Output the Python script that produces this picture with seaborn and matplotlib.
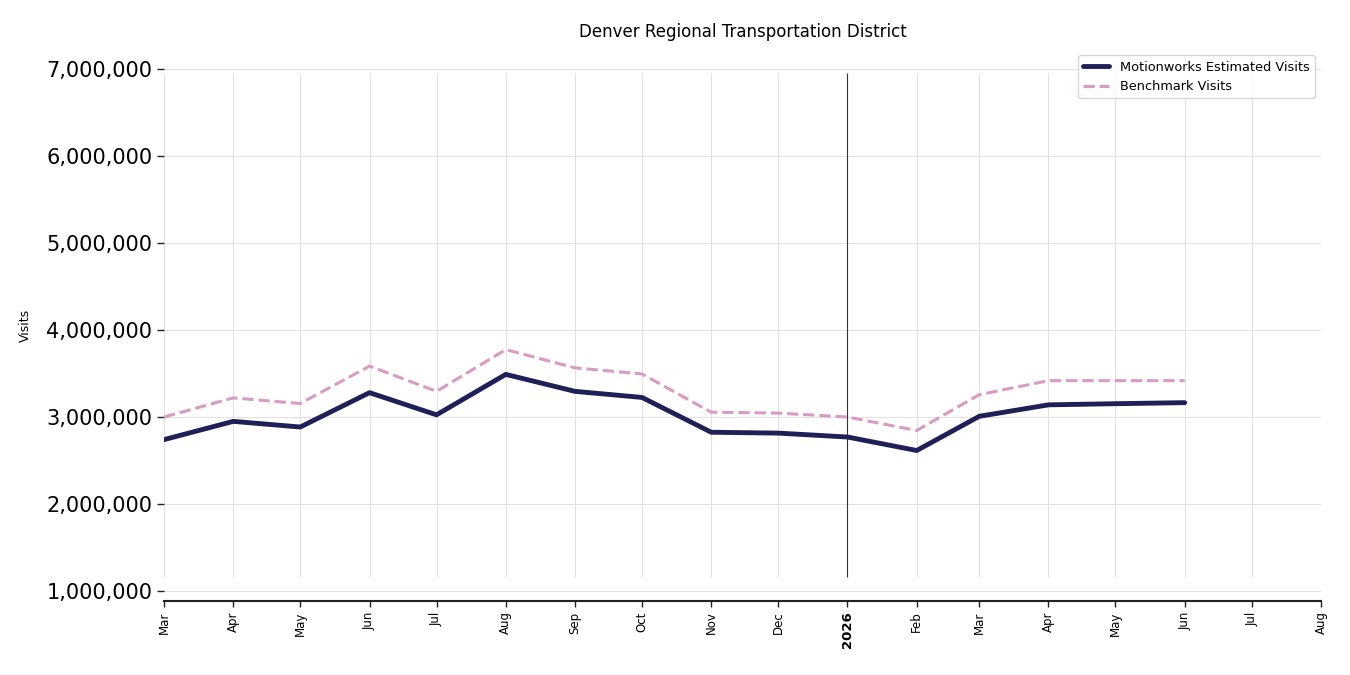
import matplotlib
matplotlib.use("Agg")
import matplotlib.pyplot as plt
from matplotlib.ticker import FuncFormatter
import numpy as np
import pandas as pd
import seaborn as sns

# monthly visits, Mar 2025 - Jun 2026
months = pd.date_range("2025-03-01", "2026-06-01", freq="MS")
motionworks = [2740000, 2950000, 2885000, 3280000, 3025000, 3490000, 3295000, 3225000,
               2825000, 2815000, 2770000, 2615000, 3008000, 3140000, 3153000, 3165000]
benchmark = [3000000, 3220000, 3155000, 3585000, 3295000, 3775000, 3565000, 3495000,
             3055000, 3045000, 3000000, 2845000, 3257000, 3418000, 3418000, 3418000]
tick_months = pd.date_range("2025-03-01", "2026-08-01", freq="MS")
title = "Denver Regional Transportation District"

df = pd.DataFrame({"month": months, "mw": motionworks, "bm": benchmark})

sns.set_theme(style="white")
plt.rcParams['font.family'] = ['DejaVu Sans']
plt.rcParams['text.color'] = 'black'
plt.rcParams['axes.labelcolor'] = 'black'
plt.rcParams['xtick.color'] = 'black'
plt.rcParams['ytick.color'] = 'black'

fig = plt.figure(figsize=(13.5, 6.75), dpi=100)
ax = fig.add_axes([0.1215, 0.1096, 0.857, 0.8178])

sns.lineplot(data=df, x="month", y="mw", ax=ax, color="#1f2057", linewidth=3.5,
             label="Motionworks Estimated Visits")
sns.lineplot(data=df, x="month", y="bm", ax=ax, color="#d99bc1", linewidth=2.2,
             linestyle="--", label="Benchmark Visits")

ax.set_ylim(885000, 7230000)
ax.set_xlim(tick_months[0], tick_months[-1])
ax.set_yticks(np.arange(1000000, 7000001, 1000000))
ax.yaxis.set_major_formatter(FuncFormatter(lambda v, p: f"{int(v):,}"))
ax.yaxis.grid(True, color="#e0e0e0", linewidth=0.7)
ax.set_axisbelow(True)

# vertical grid and year marker
ax.vlines(tick_months, 1160000, 6950000, color="#e0e0e0", linewidth=0.7, zorder=0)
ax.vlines(pd.Timestamp("2026-01-01"), 1160000, 6950000, color="#333333", linewidth=0.8, zorder=1)

ax.set_xticks(tick_months)
labels = [d.strftime("%Y") if d.month == 1 else d.strftime("%b") for d in tick_months]
ax.set_xticklabels(labels, rotation=90, fontsize=8.5)
for lab, d in zip(ax.get_xticklabels(), tick_months):
    if d.month == 1:
        lab.set_fontweight("bold")
        lab.set_fontsize(9.5)

ax.tick_params(axis="y", labelsize=15, left=True, length=5, width=1, color="#222222")
ax.tick_params(axis="x", bottom=True, length=4, width=1, color="#222222")

for s in ["top", "right", "left"]:
    ax.spines[s].set_visible(False)
ax.spines["bottom"].set_color("#222222")
ax.spines["bottom"].set_linewidth(1.5)

ax.set_xlabel("")
ax.set_ylabel("Visits", fontsize=9, labelpad=10)
ax.set_title(title, fontsize=12, pad=9)

leg = ax.legend(loc="upper right", fontsize=9.3, frameon=True)
leg.get_frame().set_edgecolor("#cccccc")

fig.savefig("out.png", dpi=100)
